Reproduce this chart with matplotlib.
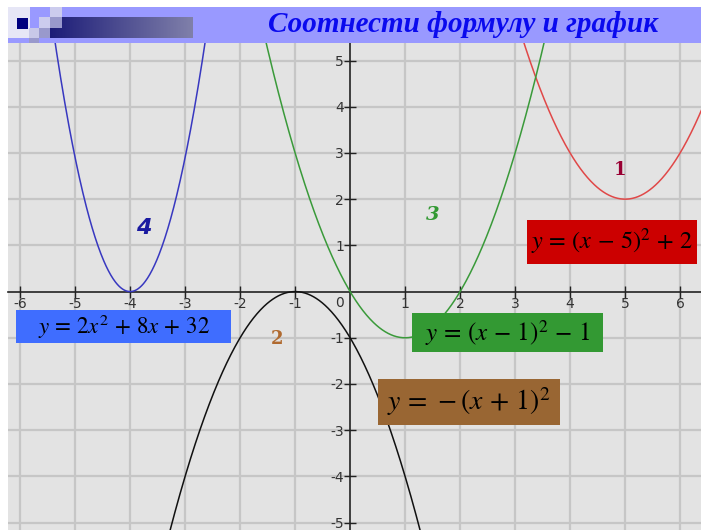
import numpy as np
import matplotlib.pyplot as plt
from matplotlib.colors import LinearSegmentedColormap
from matplotlib.patches import Rectangle

plt.rcParams['mathtext.fontset'] = 'stix'
plt.rcParams['axes.unicode_minus'] = False

# Parabolas: (vertex_x, vertex_y, leading coefficient)
curve_names = ["1", "2", "3", "4"]
vertex_x = [5.0, -1.0, 1.0, -4.0]
vertex_y = [2.0, 0.0, -1.0, 0.0]
lead_coef = [1.0, -1.0, 1.0, 2.9]
curve_colors = ["#e04848", "#111111", "#3a9a3a", "#3838c0"]

# Formula boxes
formulas = [r"$y\,=\,(x\,-\,5)^2\,+\,2$",
            r"$y\,=\,-(x\,+\,1)^2$",
            r"$y\,=\,(x\,-\,1)^2\,-\,1$",
            r"$y\,=\,2x^2\,+\,8x\,+\,32$"]
box_x0 = [3.22, 0.51, 1.13, -6.07]
box_x1 = [6.31, 3.82, 4.60, -2.16]
box_y0 = [0.60, -2.89, -1.31, -1.12]
box_y1 = [1.55, -1.89, -0.465, -0.39]
box_colors = ["#cc0000", "#996633", "#339933", "#3f6dff"]
formula_sizes = [17.5, 20, 18, 16.5]

# Curve number labels
label_x = [4.91, -1.33, 1.51, -3.76]
label_y = [2.63, -1.03, 1.66, 1.37]
label_colors = ["#990033", "#b06a30", "#339933", "#1a1aa0"]
label_family = ["DejaVu Serif", "DejaVu Serif", "DejaVu Serif", "DejaVu Sans"]
label_style = ["normal", "normal", "italic", "italic"]
label_sizes = [13, 13, 14, 16]

xticks = [-6, -5, -4, -3, -2, -1, 1, 2, 3, 4, 5, 6]
yticks = [-5, -4, -3, -2, -1, 1, 2, 3, 4, 5]
title = "Соотнести формулу и график"

W, H = 701, 530
fig = plt.figure(figsize=(W / 100, H / 100), dpi=100, facecolor="white")

# main plot area (pixel box 8..701 x 43..530)
ax = fig.add_axes([8 / W, 0, 693 / W, 487 / H])
ax.set_facecolor("#e3e3e3")
ax.set_xlim(-6.22, 6.38)
ax.set_ylim(-5.16, 5.38)
ax.grid(True, color="#c6c6c6", lw=1.6)
ax.set_axisbelow(True)

for s in ["top", "right"]:
    ax.spines[s].set_visible(False)
for s in ["left", "bottom"]:
    ax.spines[s].set_position(("data", 0))
    ax.spines[s].set_linewidth(1.2)
    ax.spines[s].set_color("#222222")
ax.set_xticks(xticks)
ax.set_yticks(yticks)
ax.tick_params(direction="inout", length=9, width=1.0, color="#222222",
               labelsize=10, labelcolor="#333333")
ax.tick_params(axis="x", pad=-0.5)
ax.tick_params(axis="y", pad=0)
ax.text(-0.12, -0.1, "0", ha="right", va="top", fontsize=10, color="#333333")

xs = np.linspace(-6.3, 6.4, 1200)
for vx, vy, a, c in zip(vertex_x, vertex_y, lead_coef, curve_colors):
    ax.plot(xs, a * (xs - vx) ** 2 + vy, color=c, lw=1.1, zorder=3)

for name, lx, ly, c, fam, st, fs in zip(curve_names, label_x, label_y,
                                        label_colors, label_family,
                                        label_style, label_sizes):
    ax.text(lx, ly, name, color=c, fontsize=fs, fontweight="bold",
            fontstyle=st, family=fam, ha="center", va="center", zorder=5)

for f, x0, x1, y0, y1, c, fs in zip(formulas, box_x0, box_x1, box_y0, box_y1,
                                     box_colors, formula_sizes):
    ax.add_patch(Rectangle((x0, y0), x1 - x0, y1 - y0, facecolor=c,
                           edgecolor="none", zorder=6))
    ax.text((x0 + x1) / 2, (y0 + y1) / 2, f, fontsize=fs, color="black",
            ha="center", va="center", zorder=7)

# header strip in pixel coordinates
hx = fig.add_axes([0, 1 - 43 / H, 1, 43 / H])
hx.set_zorder(5)
hx.axis("off")
hx.add_patch(Rectangle((8, 7), W - 8, 36, facecolor="#9999ff", edgecolor="none"))
hx.add_patch(Rectangle((8, 7), 22, 31, facecolor="#e6e6f6", edgecolor="none"))
grad = np.linspace(0, 1, 256)[None, :]
hx.imshow(grad, extent=(50, 193, 38, 17), aspect="auto", zorder=1,
          cmap=LinearSegmentedColormap.from_list("hdr", ["#1c1c78", "#8080aa"]))
squares = [
    (17, 18, 11, 11, "#00007f"),
    (29, 28, 10, 10, "#c8c8e8"),
    (39, 17, 11, 11, "#ccccee"),
    (50, 7, 12, 10, "#ccccee"),
    (50, 17, 12, 11, "#9999cc"),
    (39, 28, 11, 10, "#9999cc"),
    (29, 38, 10, 5, "#9999cc"),
]
for x0, y0, w, h, c in squares:
    hx.add_patch(Rectangle((x0, y0), w, h, facecolor=c, edgecolor="none", zorder=2))
hx.set_xlim(0, W)
hx.set_ylim(43, 0)
hx.text(463, 25, title, color="#0a0aee", fontsize=21, fontweight="bold",
        fontstyle="italic", family="Liberation Serif", ha="center", va="center")

fig.savefig("out.png", dpi=100)
